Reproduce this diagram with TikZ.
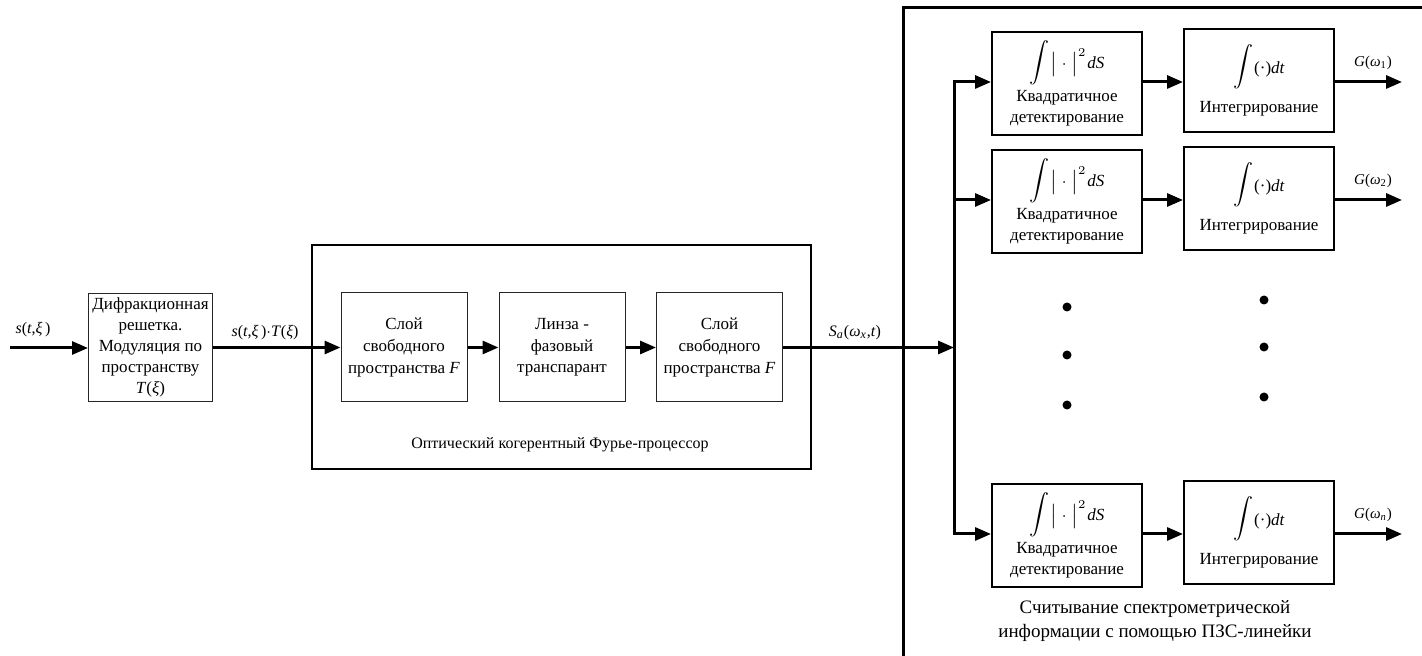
\documentclass[tikz,border=0pt]{standalone}
\usepackage{fontspec}
\setmainfont{Liberation Serif}
\usetikzlibrary{arrows.meta,calc}
\begin{document}
\begin{tikzpicture}[x=0.5pt,y=-0.5pt,
  every node/.style={font=\fontsize{8.5}{10.8}\selectfont, inner sep=0pt},
  arr/.style={line width=1.5pt,-{Triangle[length=8pt,width=6.5pt]}},
  thickline/.style={line width=1.5pt},
  thinbox/.style={draw=black!85, line width=0.5pt, align=center, minimum width=63pt, minimum height=54.5pt},
  dbox/.style={draw, line width=1pt, align=center, minimum width=75pt, minimum height=51.5pt},
  lbl/.style={font=\fontsize{8}{10}\selectfont},
  slbl/.style={font=\fontsize{7.5}{9}\selectfont},
  dotm/.style={circle, fill, minimum size=4.5pt}
]
\useasboundingbox (0,0) rectangle (1422,656);

% left chain
\coordinate (in) at (10,348);
\node[thinbox, minimum width=62pt, minimum height=54pt, font=\fontsize{8.5}{10.5}\selectfont] (b1) at (150.5,347.5)
  {Дифракционная\\решетка.\\Модуляция по\\пространству\\\textit{T}(\textit{ξ})};
\node[lbl] (l0) at (33,330) {\textit{s}(\textit{t},\textit{ξ}\,)};
\draw[arr] (in) -- (in -| b1.west);

\node[draw, line width=0.75pt, minimum width=249.5pt, minimum height=112pt] (fp) at (561.5,357) {};
\node[lbl] (fpl) at (560,445) {Оптический когерентный Фурье-процессор};

\node[thinbox] (b2) at (404,347.5) {Слой\\свободного\\пространства \textit{F}};
\node[thinbox] (b3) at (562,347.5) {Линза -\\фазовый\\транспарант};
\node[thinbox] (b4) at (719.5,347.5) {Слой\\свободного\\пространства \textit{F}};

\draw[arr] (b1.east) -- (b2.west);
\node[lbl] (l1) at (265,333) {\textit{s}(\textit{t},\textit{ξ}\,)$\cdot$\textit{T}(\textit{ξ})};
\draw[arr] (b2.east) -- (b3.west);
\draw[arr] (b3.east) -- (b4.west);

% right frame
\coordinate (BL) at (903,662);
\coordinate (TL) at (903,8);
\coordinate (TR) at (1428,8);
\draw[line width=1.5pt] (BL) -- (TL) -- (TR);

% bus
\coordinate (bt) at (954,82);
\coordinate (r2) at (954,200);
\coordinate (bm) at (954,348);
\coordinate (bb) at (954,534);
\draw[arr] (b4.east) -- (b4.east -| bm);
\node[lbl] (l2) at (855,333) {\textit{S}\textsubscript{\textit{a}}(\textit{ω}\textsubscript{\textit{x}},\textit{t})};

% detector / integrator boxes
\newcommand{\myint}{\raisebox{1.5pt}{\fontsize{5.6}{5.6}\selectfont$\displaystyle\int$}}
\newcommand{\detx}{\myint\kern0.5pt$\bigl|\;\cdot\;\bigr|^{2}$\kern0.5pt\textit{dS}\\[1.5pt]Квадратичное\\детектирование}
\newcommand{\intx}{\myint\kern0.5pt(·)\textit{dt}\\[5pt]Интегрирование}
\node[dbox] (d1) at (1067,83.5) {\detx};
\node[dbox] (i1) at (1259,80.5) {\intx};
\node[dbox] (d2) at (1067,201.5) {\detx};
\node[dbox] (i2) at (1259,198.5) {\intx};
\node[dbox] (d3) at (1067,535.5) {\detx};
\node[dbox] (i3) at (1259,532.5) {\intx};

\draw[arr] (bb) -- (bt) -- (d1.west |- bt);
\draw[arr] (bt) -- (bb) -- (d3.west |- bb);
\draw[arr] (r2) -- (d2.west |- r2);

\draw[arr] (d1.east |- bt) -- (i1.west |- bt);
\draw[arr] (d2.east |- r2) -- (i2.west |- r2);
\draw[arr] (d3.east |- bb) -- (i3.west |- bb);

\coordinate (o1) at (1402,82);
\coordinate (o2) at (1402,200);
\coordinate (o3) at (1402,534);
\draw[arr] (i1.east |- o1) -- (o1);
\draw[arr] (i2.east |- o2) -- (o2);
\draw[arr] (i3.east |- o3) -- (o3);
\node[slbl] (g1) at (1373,63) {\textit{G}(\textit{ω}\textsubscript{1})};
\node[slbl] (g2) at (1373,181) {\textit{G}(\textit{ω}\textsubscript{2})};
\node[slbl] (g3) at (1373,515) {\textit{G}(\textit{ω}\textsubscript{\textit{n}})};

% dots
\node[dotm] (p1) at (1067,307) {};
\node[dotm] (p2) at (1067,355) {};
\node[dotm] (p3) at (1067,405) {};
\node[dotm] (q1) at (1264,300) {};
\node[dotm] (q2) at (1264,347) {};
\node[dotm] (q3) at (1264,397) {};

\node[align=center, font=\fontsize{9.5}{12}\selectfont] (ccd) at (1155,621)
  {Считывание спектрометрической\\информации с помощью ПЗС-линейки};
\end{tikzpicture}
\end{document}
